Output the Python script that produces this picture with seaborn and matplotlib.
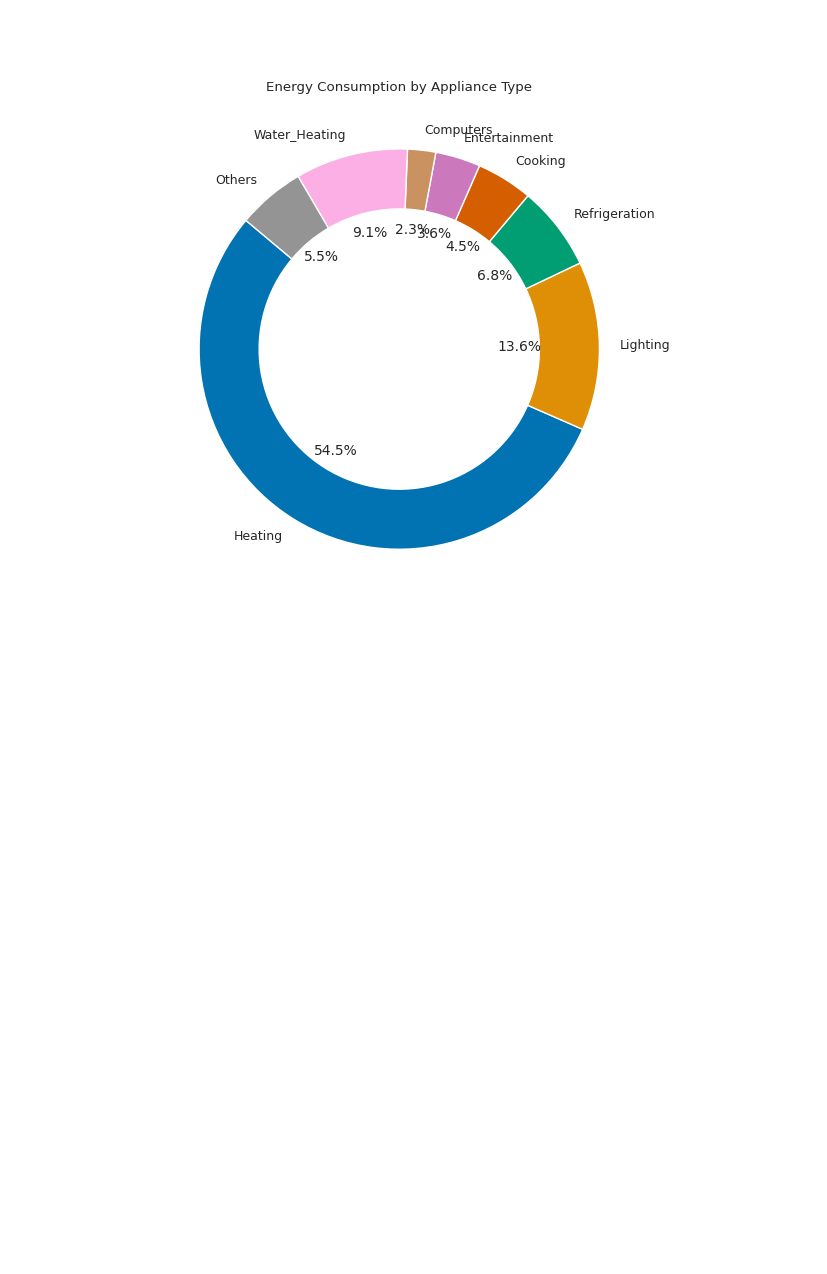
import matplotlib
matplotlib.use("Agg")
import matplotlib.pyplot as plt
import seaborn as sns

# Energy use per appliance type
appliances = ["Heating", "Lighting", "Refrigeration", "Cooking",
              "Entertainment", "Computers", "Water_Heating", "Others"]
consumption = [120, 30, 15, 10, 8, 5, 20, 12]

sns.set_theme(style="white")
colors = sns.color_palette("colorblind", len(appliances))

fig = plt.figure(figsize=(8.28, 12.74), dpi=100)
ax = fig.add_axes([0.1800, 0.5295, 0.6044, 0.3930])

wedges, texts, autotexts = ax.pie(
    consumption,
    labels=appliances,
    colors=colors,
    autopct="%1.1f%%",
    startangle=140,
    wedgeprops=dict(width=0.3, edgecolor="white"),
    textprops=dict(fontsize=9),
)
for t in autotexts:
    t.set_fontsize(10)
ax.set_title("Energy Consumption by Appliance Type", fontsize=9.6)

fig.savefig("out.png", dpi=100)
